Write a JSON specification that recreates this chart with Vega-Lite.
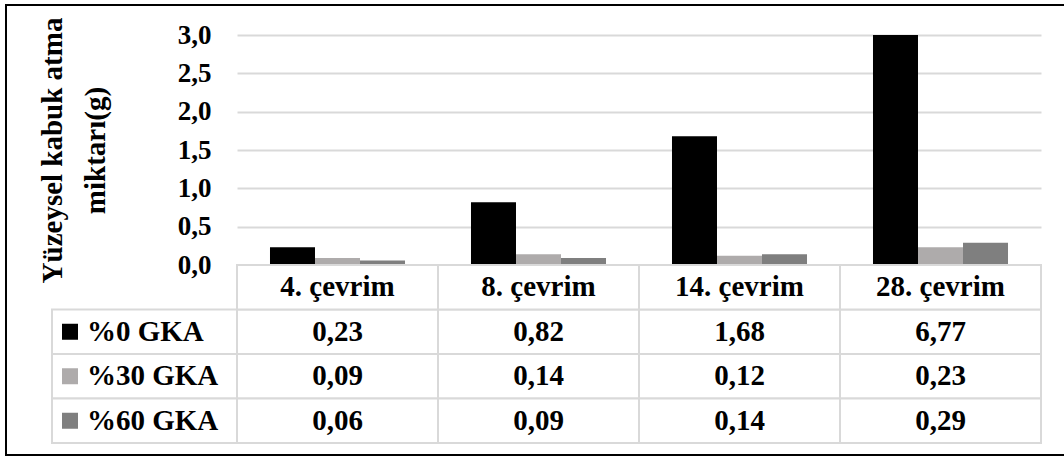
{
  "$schema": "https://vega.github.io/schema/vega-lite/v6.json",
  "width": 1060,
  "height": 450,
  "autosize": {"type": "none"},
  "padding": {"left": 6, "top": 5, "right": 0, "bottom": 2},
  "background": "white",
  "config": {
    "view": {"stroke": "black", "strokeWidth": 2, "fill": "white"},
    "locale": {"number": {"decimal": ",", "thousands": ".", "grouping": [3], "currency": ["", ""]}},
    "font": "Liberation Serif"
  },
  "datasets": {
    "main": [
      {"cycle": "4. çevrim", "series": "%0 GKA", "value": 0.23},
      {"cycle": "4. çevrim", "series": "%30 GKA", "value": 0.09},
      {"cycle": "4. çevrim", "series": "%60 GKA", "value": 0.06},
      {"cycle": "8. çevrim", "series": "%0 GKA", "value": 0.82},
      {"cycle": "8. çevrim", "series": "%30 GKA", "value": 0.14},
      {"cycle": "8. çevrim", "series": "%60 GKA", "value": 0.09},
      {"cycle": "14. çevrim", "series": "%0 GKA", "value": 1.68},
      {"cycle": "14. çevrim", "series": "%30 GKA", "value": 0.12},
      {"cycle": "14. çevrim", "series": "%60 GKA", "value": 0.14},
      {"cycle": "28. çevrim", "series": "%0 GKA", "value": 6.77},
      {"cycle": "28. çevrim", "series": "%30 GKA", "value": 0.23},
      {"cycle": "28. çevrim", "series": "%60 GKA", "value": 0.29}
    ],
    "cycles": [
      {"cycle": "4. çevrim"},
      {"cycle": "8. çevrim"},
      {"cycle": "14. çevrim"},
      {"cycle": "28. çevrim"}
    ],
    "serieslist": [
      {"series": "%0 GKA"},
      {"series": "%30 GKA"},
      {"series": "%60 GKA"}
    ]
  },
  "resolve": {"scale": {"x": "independent", "y": "independent"}, "axis": {"x": "independent", "y": "independent"}},
  "layer": [
    {
      "data": {"name": "main"},
      "mark": {"type": "bar"},
      "encoding": {
        "x": {
          "field": "cycle", "type": "nominal", "sort": null,
          "scale": {"domain": ["4. çevrim", "8. çevrim", "14. çevrim", "28. çevrim"], "range": [231, 1035], "paddingInner": 0, "paddingOuter": 0},
          "axis": null
        },
        "xOffset": {
          "field": "series", "type": "nominal",
          "scale": {"domain": ["%0 GKA", "%30 GKA", "%60 GKA"], "paddingInner": 0, "paddingOuter": 0.733}
        },
        "y": {
          "field": "value", "type": "quantitative",
          "scale": {"domain": [0, 3], "range": [260, 30], "clamp": true, "nice": false, "zero": true},
          "axis": {
            "values": [0, 0.5, 1, 1.5, 2, 2.5, 3],
            "format": ".1f",
            "offset": -231,
            "domain": false,
            "ticks": false,
            "grid": true,
            "gridColor": "#d9d9d9",
            "gridWidth": 2,
            "labelFont": "Liberation Serif",
            "labelFontSize": 27,
            "labelFontWeight": "bold",
            "labelColor": "black",
            "labelPadding": 26,
            "title": ["Yüzeysel kabuk atma", "miktarı(g)"],
            "titleFont": "Liberation Serif",
            "titleFontSize": 29,
            "titleFontWeight": "bold",
            "titleColor": "black",
            "titlePadding": 67,
            "titleLineHeight": 43
          }
        },
        "color": {
          "field": "series", "type": "nominal",
          "scale": {"domain": ["%0 GKA", "%30 GKA", "%60 GKA"], "range": ["#000000", "#aeabab", "#7f7f7f"]},
          "legend": null
        }
      }
    },
    {
      "encoding": {
        "x": {
          "field": "cycle", "type": "nominal", "sort": null,
          "scale": {"domain": ["4. çevrim", "8. çevrim", "14. çevrim", "28. çevrim"], "range": [231, 1035], "paddingInner": 0, "paddingOuter": 0},
          "axis": null
        }
      },
      "layer": [
        {
          "data": {"name": "main"},
          "mark": {"type": "rect", "fill": "white", "stroke": "#d9d9d9", "strokeWidth": 2},
          "encoding": {
            "y": {"field": "series", "type": "nominal", "scale": {"domain": ["çevrim", "%0 GKA", "%30 GKA", "%60 GKA"], "range": [260, 438], "paddingInner": 0, "paddingOuter": 0}, "axis": null}
          }
        },
        {
          "data": {"name": "cycles"},
          "mark": {"type": "rect", "fill": "white", "stroke": "#d9d9d9", "strokeWidth": 2},
          "encoding": {
            "y": {"datum": "çevrim", "type": "nominal"}
          }
        },
        {
          "data": {"name": "main"},
          "mark": {"type": "text", "font": "Liberation Serif", "fontWeight": "bold", "fontSize": 29, "color": "black", "align": "center", "baseline": "middle"},
          "encoding": {
            "y": {"field": "series", "type": "nominal"},
            "text": {"field": "value", "type": "quantitative", "format": ".2f"}
          }
        },
        {
          "data": {"name": "cycles"},
          "mark": {"type": "text", "font": "Liberation Serif", "fontWeight": "bold", "fontSize": 29, "color": "black", "align": "center", "baseline": "middle"},
          "encoding": {
            "y": {"datum": "çevrim", "type": "nominal"},
            "text": {"field": "cycle", "type": "nominal"}
          }
        }
      ]
    },
    {
      "data": {"name": "serieslist"},
      "encoding": {
        "y": {"field": "series", "type": "nominal", "scale": {"domain": ["%0 GKA", "%30 GKA", "%60 GKA"], "range": [304.5, 438], "paddingInner": 0, "paddingOuter": 0}, "axis": null}
      },
      "layer": [
        {
          "mark": {"type": "rect", "fill": "white", "stroke": "#d9d9d9", "strokeWidth": 2},
          "encoding": {
            "x": {"datum": "GKA", "type": "nominal", "scale": {"range": [46, 231], "paddingInner": 0, "paddingOuter": 0}, "axis": null}
          }
        },
        {
          "mark": {"type": "point", "shape": "square", "filled": true, "size": 256, "opacity": 1, "xOffset": 18},
          "encoding": {
            "x": {"datum": "GKA", "type": "nominal", "bandPosition": 0},
            "color": {"field": "series", "type": "nominal", "legend": null}
          }
        },
        {
          "mark": {"type": "text", "font": "Liberation Serif", "fontWeight": "bold", "fontSize": 29, "color": "black", "align": "left", "baseline": "middle", "dx": 35},
          "encoding": {
            "x": {"datum": "GKA", "type": "nominal", "bandPosition": 0},
            "text": {"field": "series", "type": "nominal"}
          }
        }
      ]
    }
  ]
}
